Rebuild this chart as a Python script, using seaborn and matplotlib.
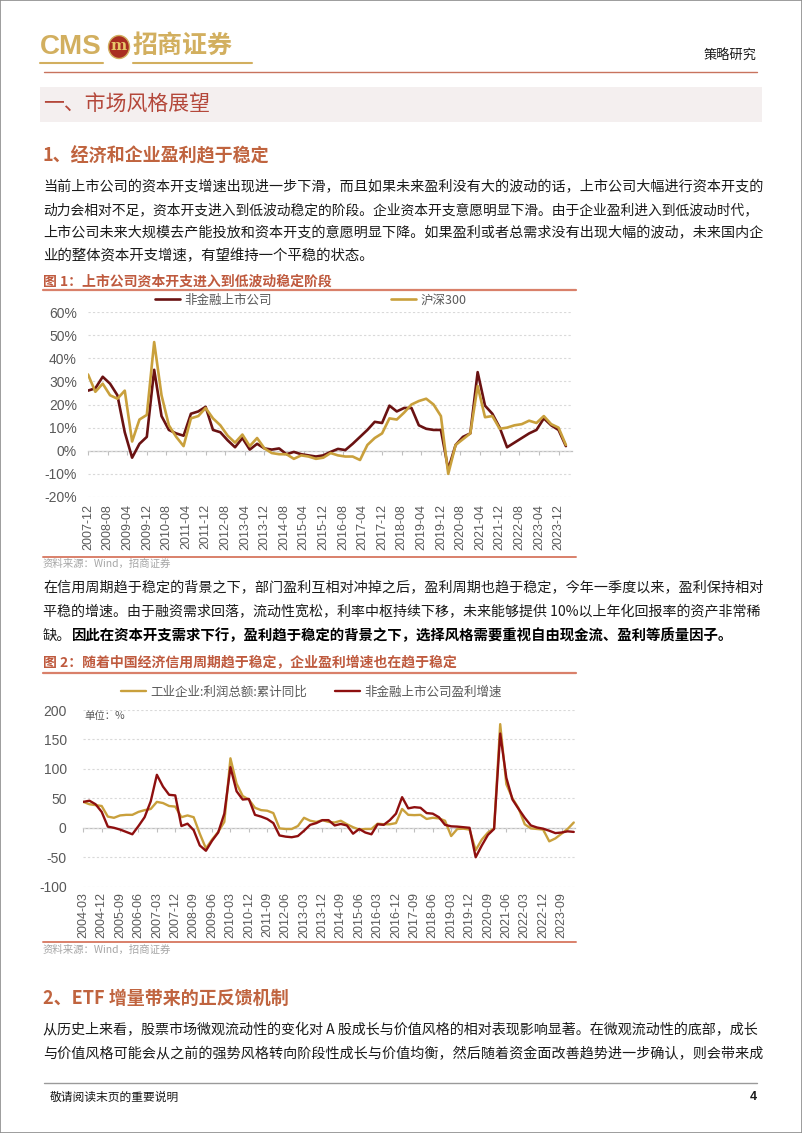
import numpy as np
import pandas as pd
import matplotlib
matplotlib.use('Agg')
import matplotlib.pyplot as plt
import seaborn as sns
from matplotlib.lines import Line2D
from matplotlib.patches import Rectangle, Ellipse

W, H = 802, 1133

# ---------------- data ----------------
c1_ticks = ['2007-12', '2008-08', '2009-04', '2009-12', '2010-08', '2011-04', '2011-12',
            '2012-08', '2013-04', '2013-12', '2014-08', '2015-04', '2015-12', '2016-08',
            '2017-04', '2017-12', '2018-08', '2019-04', '2019-12', '2020-08', '2021-04',
            '2021-12', '2022-08', '2023-04', '2023-12']
c1_series = ['非金融上市公司', '沪深300']
c1_nonfin = [26, 27, 32, 29, 24, 8, -3, 3, 6, 35,
             15, 9, 7.5, 6.5, 16, 17, 19, 9, 8, 4.5,
             1.5, 5.5, 0.5, 3, 1, 0.5, 1, -1.5, -0.5, -1.5,
             -2, -2.5, -2, -0.5, 0.8, 0.3, 3, 6, 9, 12.5,
             12, 19.5, 17, 18.5, 18.5, 11, 9.5, 9, 9, -8,
             2.5, 6, 7.5, 34, 19.5, 16, 10, 1.5, 3.5, 5.5,
             7.5, 9, 14, 11, 9, 2]
c1_hs300 = [33, 25.5, 29, 24, 22.5, 26, 4, 13.5, 15.5, 47,
            24, 11, 6, 2, 14, 15, 18.5, 14, 11, 6.5,
            3.5, 7, 2, 5.5, 1, -1, -1.5, -1.5, -3.5, -2,
            -2.5, -3.5, -3, -1, -2, -2.5, -2.5, -4, 2.5, 5.5,
            7.5, 14, 13.5, 16.5, 20, 21.5, 22.5, 20, 15, -10,
            2.5, 5, 7.5, 28, 14.5, 15, 9.5, 10, 11, 11.5,
            13, 12, 15, 11.5, 10, 2.5]

c2_ticks = ['2004-03', '2004-12', '2005-09', '2006-06', '2007-03', '2007-12', '2008-09',
            '2009-06', '2010-03', '2010-12', '2011-09', '2012-06', '2013-03', '2013-12',
            '2014-09', '2015-06', '2016-03', '2016-12', '2017-09', '2018-06', '2019-03',
            '2019-12', '2020-09', '2021-06', '2022-03', '2022-12', '2023-09']
c2_series = ['工业企业:利润总额:累计同比', '非金融上市公司盈利增速']
c2_industry = [44, 40, 38.5, 37, 19, 17, 21, 22, 22, 27,
               30, 32, 44, 42, 37, 36, 18, 21, 18, -10,
               -35, -20, -7, 10, 118, 75, 54, 48, 34, 30,
               29, 25, -1, -2, -2, 3, 17, 12, 10, 13,
               10, 9, 12, 6, 1, -3, -2, -2, 7, 6,
               6, 8, 32, 22, 21.5, 22, 15, 17, 16, 12,
               -14, -2, -1.5, -3, -38, -20, -8, -1, 176, 74,
               50, 33, 6, -1, -2, -3, -23, -18, -10, -2,
               9]
c2_nonfin = [44, 46, 40, 27, 2, 0, -3, -7, -11, 3,
             18, 45, 90, 70, 56, 55, 3, 7, -4, -30,
             -39, -22, -8, 24, 103, 62, 48, 49, 22, 19,
             15, 8, -13, -15, -16, -14, -5, 5, 8, 13,
             13, 4, 6.5, 4, -10, -2, -8, -11, 6, 5,
             13, 24, 52, 33, 35, 34, 25, 24, 18, 5,
             2.5, 2, 1, 0, -50, -30, -12, -2, 160, 85,
             48, 32, 17, 4, 0.5, -1.5, -5, -9, -8, -6,
             -7]

# ---------------- style ----------------
sns.set_theme(style='white')
plt.rcParams['font.family'] = ['Noto Sans CJK SC', 'DejaVu Sans']
plt.rcParams['axes.unicode_minus'] = False

DARK1 = '#6A1212'
DARK2 = '#8E0F0F'
GOLD = '#C9A03C'
TITLE_RED = '#BF5A3E'
RULE_RED = '#D9806A'
GRAY_TXT = '#595959'
ARIAL = ['Liberation Sans', 'DejaVu Sans']
CJK = ['Noto Sans CJK SC', 'DejaVu Sans']

fig = plt.figure(figsize=(W / 100, H / 100), dpi=100, facecolor='white')


def fx(x):
    return x / W


def fy(y):
    return 1 - y / H


def hline(x0, x1, y, color, lw):
    fig.add_artist(Line2D([fx(x0), fx(x1)], [fy(y), fy(y)], color=color, lw=lw,
                          transform=fig.transFigure))


def txt(x, y, s, size, color='#1A1A1A', weight='normal', ha='left', family=CJK):
    return fig.text(fx(x), fy(y), s, fontsize=size, color=color, weight=weight,
                    ha=ha, va='center', family=family)


# page border
fig.add_artist(Rectangle((0, 0), 1, 1, transform=fig.transFigure, fill=False,
                         edgecolor='#8C8C8C', lw=1.2))

# ---------------- header ----------------
txt(40, 47, 'CMS', 20, color='#D2AF5F', weight='bold',
    family=['Liberation Sans Narrow', 'Liberation Sans', 'DejaVu Sans'])
fig.add_artist(Ellipse((fx(119), fy(47)), 21 / W, 23 / H, transform=fig.transFigure,
                       facecolor='#A92E22', edgecolor='#D2AF5F', lw=1))
txt(119, 46, 'm', 11, color='#E8C96A', weight='bold', ha='center',
    family=['DejaVu Serif'])
txt(133, 46, '招商证券', 18, color='#D2AF5F', weight='bold')
hline(40, 103, 63, '#D2AF5F', 1.5)
hline(133, 252, 63, '#D2AF5F', 1.5)
txt(757, 56, '策略研究', 9.5, color='#1A1A1A', ha='right')
hline(44, 757, 72, '#C8735E', 1.0)

# section banner
fig.add_artist(Rectangle((fx(40), fy(122)), (762 - 40) / W, 35 / H,
                         transform=fig.transFigure, facecolor='#F4EFEF', edgecolor='none'))
txt(43, 104, '一、市场风格展望', 15, color='#B4473A')
txt(43, 156, '1、经济和企业盈利趋于稳定', 13, color='#C0643F', weight='bold')

renderer = fig.canvas.get_renderer()
BODY = 10.4


def body_line(y, s, justify=True, x0=43, x1=757, weight='normal', size=BODY):
    t = txt(x0, y, s, size, weight=weight)
    if justify:
        w = t.get_window_extent(renderer).width
        scale = (x1 - x0) / w
        scale = min(max(scale, 0.9), 1.12)
        t.set_fontsize(size * scale)
    return t


p1 = ['当前上市公司的资本开支增速出现进一步下滑，而且如果未来盈利没有大的波动的话，上市公司大幅进行资本开支的',
      '动力会相对不足，资本开支进入到低波动稳定的阶段。企业资本开支意愿明显下滑。由于企业盈利进入到低波动时代，',
      '上市公司未来大规模去产能投放和资本开支的意愿明显下降。如果盈利或者总需求没有出现大幅的波动，未来国内企',
      '业的整体资本开支增速，有望维持一个平稳的状态。']
for i, (yy, s) in enumerate(zip([187, 210, 233, 256], p1)):
    body_line(yy, s, justify=(i < 3))

# ---------------- figure 1 ----------------
txt(43, 282, '图 1：上市公司资本开支进入到低波动稳定阶段', 10, color=TITLE_RED, weight='bold')
hline(43, 576, 290, RULE_RED, 1.6)

ax1 = fig.add_axes([fx(88), fy(497), 484 / W, 185 / H])
df1 = pd.DataFrame({'month': np.arange(len(c1_nonfin)) * 3,
                    c1_series[0]: c1_nonfin, c1_series[1]: c1_hs300})
sns.lineplot(data=df1, x='month', y=c1_series[0], ax=ax1, color=DARK1, lw=1.9,
             label=c1_series[0])
sns.lineplot(data=df1, x='month', y=c1_series[1], ax=ax1, color=GOLD, lw=1.9,
             label=c1_series[1])
ax1.set_xlim(0, 197.5)
ax1.set_ylim(-20, 60)
ax1.set_xlabel('')
ax1.set_ylabel('')
yt1 = np.arange(-20, 61, 10)
ax1.set_yticks(yt1)
ax1.set_yticklabels([f'{v}%' for v in yt1], fontsize=10, color=GRAY_TXT, family=ARIAL)
xt1 = np.arange(len(c1_ticks)) * 8
ax1.set_xticks(xt1)
ax1.set_xticklabels(c1_ticks, rotation=90, fontsize=9, color=GRAY_TXT, family=ARIAL)
ax1.tick_params(axis='both', length=0)
ax1.tick_params(axis='y', pad=8)
ax1.tick_params(axis='x', pad=5)
ax1.yaxis.grid(True, color='#D9D9D9', lw=0.8, ls=(0, (2, 2)))
for sp in ax1.spines.values():
    sp.set_visible(False)
sec1 = ax1.secondary_xaxis(0.25)
sec1.set_xticks(xt1)
sec1.tick_params(axis='x', bottom=True, labelbottom=False, length=3, width=0.8,
                 color='#BFBFBF', direction='out')
sec1.spines['bottom'].set_color('#BFBFBF')
sec1.spines['bottom'].set_linewidth(0.9)
ax1.legend(loc='center', bbox_to_anchor=(0.46, 1 + 12 / 185), ncol=2, frameon=False,
           fontsize=9, columnspacing=9.6, handlelength=2.0, handletextpad=0.3,
           labelcolor=GRAY_TXT)

hline(43, 576, 557, RULE_RED, 1.4)
txt(43, 564, '资料来源：Wind，招商证券', 7.5, color='#A6A6A6')

# ---------------- paragraph 2 ----------------
p2 = ['在信用周期趋于稳定的背景之下，部门盈利互相对冲掉之后，盈利周期也趋于稳定，今年一季度以来，盈利保持相对',
      '平稳的增速。由于融资需求回落，流动性宽松，利率中枢持续下移，未来能够提供 10%以上年化回报率的资产非常稀']
body_line(588, p2[0])
body_line(612, p2[1])
t_a = txt(43, 636, '缺。', BODY)
wa = t_a.get_window_extent(renderer).width
txt(43 + wa, 636, '因此在资本开支需求下行，盈利趋于稳定的背景之下，选择风格需要重视自由现金流、盈利等质量因子。',
    BODY, weight='bold', color='#000000')

# ---------------- figure 2 ----------------
txt(43, 663, '图 2：随着中国经济信用周期趋于稳定，企业盈利增速也在趋于稳定', 10, color=TITLE_RED,
    weight='bold')
hline(43, 576, 673, RULE_RED, 1.6)

ax2 = fig.add_axes([fx(83.3), fy(886.7), 491.7 / W, 176.7 / H])
df2 = pd.DataFrame({'q': np.arange(len(c2_nonfin)),
                    c2_series[0]: c2_industry, c2_series[1]: c2_nonfin})
sns.lineplot(data=df2, x='q', y=c2_series[0], ax=ax2, color=GOLD, lw=1.7,
             label=c2_series[0])
sns.lineplot(data=df2, x='q', y=c2_series[1], ax=ax2, color=DARK2, lw=1.7,
             label=c2_series[1])
ax2.set_xlim(0, 80.2)
ax2.set_ylim(-100, 200)
ax2.set_xlabel('')
ax2.set_ylabel('')
yt2 = np.arange(-100, 201, 50)
ax2.set_yticks(yt2)
ax2.set_yticklabels([str(v) for v in yt2], fontsize=10, color=GRAY_TXT, family=ARIAL)
xt2 = np.arange(len(c2_ticks)) * 3
ax2.set_xticks(xt2)
ax2.set_xticklabels(c2_ticks, rotation=90, fontsize=9, color=GRAY_TXT, family=ARIAL)
ax2.tick_params(axis='both', length=0)
ax2.tick_params(axis='y', pad=12)
ax2.tick_params(axis='x', pad=4)
ax2.yaxis.grid(True, color='#D9D9D9', lw=0.8, ls=(0, (2, 2)))
for sp in ax2.spines.values():
    sp.set_visible(False)
sec2 = ax2.secondary_xaxis(1 / 3)
sec2.set_xticks(xt2)
sec2.tick_params(axis='x', bottom=True, labelbottom=False, length=3, width=0.8,
                 color='#BFBFBF', direction='out')
sec2.spines['bottom'].set_color('#BFBFBF')
sec2.spines['bottom'].set_linewidth(0.9)
ax2.legend(loc='center', bbox_to_anchor=(0.464, 1 + 18 / 176.7), ncol=2, frameon=False,
           fontsize=9, columnspacing=2.3, handlelength=2.0, handletextpad=0.3,
           labelcolor=GRAY_TXT)
txt(84, 716, '单位：%', 7.5, color=GRAY_TXT)

hline(43, 576, 942, RULE_RED, 1.4)
txt(43, 950, '资料来源：Wind，招商证券', 7.5, color='#A6A6A6')

# ---------------- section 2 ----------------
txt(43, 998, '2、ETF 增量带来的正反馈机制', 13, color='#C0643F', weight='bold')
p3 = ['从历史上来看，股票市场微观流动性的变化对 A 股成长与价值风格的相对表现影响显著。在微观流动性的底部，成长',
      '与价值风格可能会从之前的强势风格转向阶段性成长与价值均衡，然后随着资金面改善趋势进一步确认，则会带来成']
body_line(1030, p3[0])
body_line(1054, p3[1])

# ---------------- footer ----------------
hline(44, 757, 1083, '#9A9A9A', 1.0)
txt(50, 1097, '敬请阅读末页的重要说明', 8.5)
txt(757, 1097, '4', 9, weight='bold', ha='right', family=ARIAL)

fig.savefig('out.png', dpi=100, facecolor='white')
